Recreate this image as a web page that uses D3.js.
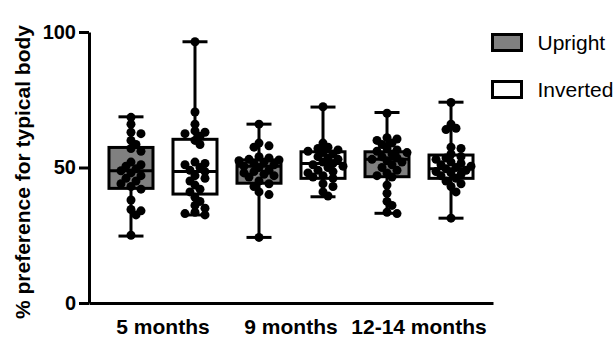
<!DOCTYPE html>
<meta charset="utf-8">
<style>
    body { margin: 0; background: #fff; }
    svg { font-family: "Liberation Sans", Arial, sans-serif; }
    .axis path, .axis line { stroke: #000; stroke-width: 3; }
    .axis text { font-weight: bold; fill: #000; }
</style>
<svg width="616" height="346"></svg>
<script src="https://cdn.jsdelivr.net/npm/d3@7"></script>
<script>
    // ages and conditions
    var ages = ["5 months", "9 months", "12-14 months"];
    var conditions = ["Upright", "Inverted"];
    var yTicks = [0, 50, 100];

    // individual infants, per age x condition, in order of ages then conditions
    var points5U = [68.5, 66, 63, 62.5, 60, 58.5, 57, 56, 52, 51, 50.5, 49.5, 48.8, 48, 47, 46, 45, 44, 43, 42, 38, 34.5, 34, 32.5, 25];
    var points5I = [96.4, 70.5, 66, 63.5, 63, 62.5, 61.5, 60, 58.5, 52, 51.5, 51, 50, 49, 48.5, 47, 46, 45, 43.5, 42, 41, 39, 37.5, 36, 35, 33.5, 33, 32.5];
    var points9U = [66, 59, 58, 57.5, 54, 53.5, 53, 52.8, 52.5, 52, 51.5, 51, 50.5, 50, 49, 48.5, 48, 47.5, 47, 46.5, 45, 44, 43, 41, 40, 24.2];
    var points9I = [72.4, 59, 57.5, 57, 56.5, 56, 55.5, 55, 54, 53.5, 53, 52, 51.5, 51, 50.5, 50, 49, 48.5, 48, 47, 46.5, 46, 44, 43, 41, 39.5];
    var points12U = [70, 61, 60.5, 60, 59, 58.5, 57, 56.5, 56, 55.5, 55, 54, 53.5, 53, 52.5, 52, 51, 50, 49, 48, 47, 46.5, 43.5, 40.5, 37.5, 36, 33.5, 33];
    var points12I = [74, 66, 64.5, 64, 57.5, 57, 55, 54, 53.5, 53, 52, 51.5, 51, 50.5, 50, 49.5, 49, 48.5, 48, 47.5, 47, 46, 45, 44, 43, 41, 31.3];

    // box statistics (min to max whiskers)
    var boxMin = [24.7, 32.5, 24.2, 39.2, 33.1, 31.3];
    var boxQ1 = [42.3, 40.2, 44.2, 46, 46.6, 46];
    var boxMedian = [48.8, 48.5, 50.5, 51.5, 53, 49.5];
    var boxQ3 = [57.4, 60.4, 52.8, 55.8, 55.8, 54.6];
    var boxMax = [68.7, 96.4, 66, 72.3, 70.3, 74.1];

    var allPoints = [points5U, points5I, points9U, points9I, points12U, points12I];
    var fills = { "Upright": "#808080", "Inverted": "#fff" };

    var svg = d3.select("svg");

    var x0 = d3.scaleBand().domain(ages).range([89, 493]).paddingInner(0).paddingOuter(0.078);
    var x1 = d3.scalePoint().domain(conditions).range([0, x0.bandwidth()]).padding(0.5);
    var y = d3.scaleLinear().domain([0, 100]).range([303, 32]);

    var groups = [];
    ages.forEach(function (a, i) {
        conditions.forEach(function (c, j) {
            var k = i * 2 + j;
            groups.push({
                age: a, cond: c, cx: x0(a) + x1(c),
                min: boxMin[k], q1: boxQ1[k], med: boxMedian[k], q3: boxQ3[k], max: boxMax[k],
                values: allPoints[k]
            });
        });
    });

    // simple dodge so dots sit side by side like a scatter dot plot
    var r = 4.5;
    function dodge(values, cx) {
        var placed = [];
        values.slice().sort(function (a, b) { return b - a; }).forEach(function (v) {
            var py = y(v), off = 0;
            for (var n = 0; n < 20; n++) {
                var o = (n % 2 ? 1 : -1) * Math.ceil(n / 2) * 5;
                var ok = placed.every(function (p) {
                    var dx = p.x - (cx + o), dy = p.y - py;
                    return dx * dx + dy * dy >= 36;
                });
                if (ok) { off = o; break; }
            }
            placed.push({ x: cx + off, y: py });
        });
        return placed;
    }

    var g = svg.selectAll(".box").data(groups).enter().append("g").attr("class", "box");

    // whiskers
    g.append("line")
        .attr("x1", function (d) { return d.cx; }).attr("x2", function (d) { return d.cx; })
        .attr("y1", function (d) { return y(d.max); }).attr("y2", function (d) { return y(d.min); })
        .attr("stroke", "#000").attr("stroke-width", 3);
    ["max", "min"].forEach(function (key) {
        g.append("line")
            .attr("x1", function (d) { return d.cx - 12.5; }).attr("x2", function (d) { return d.cx + 12.5; })
            .attr("y1", function (d) { return y(d[key]); }).attr("y2", function (d) { return y(d[key]); })
            .attr("stroke", "#000").attr("stroke-width", 3);
    });

    // boxes
    g.append("rect")
        .attr("x", function (d) { return d.cx - 22; })
        .attr("width", 44)
        .attr("y", function (d) { return y(d.q3); })
        .attr("height", function (d) { return y(d.q1) - y(d.q3); })
        .attr("fill", function (d) { return fills[d.cond]; })
        .attr("stroke", "#000").attr("stroke-width", 3);
    g.append("line")
        .attr("x1", function (d) { return d.cx - 22; }).attr("x2", function (d) { return d.cx + 22; })
        .attr("y1", function (d) { return y(d.med); }).attr("y2", function (d) { return y(d.med); })
        .attr("stroke", "#000").attr("stroke-width", 3);

    // dots
    g.each(function (d) {
        d3.select(this).selectAll("circle").data(dodge(d.values, d.cx)).enter().append("circle")
            .attr("cx", function (p) { return p.x; })
            .attr("cy", function (p) { return p.y; })
            .attr("r", r)
            .attr("fill", "#000");
    });

    // axes
    svg.append("g")
        .attr("class", "axis axis--y")
        .attr("transform", "translate(89,0)")
        .call(d3.axisLeft(y).tickValues(yTicks).tickSize(10).tickSizeOuter(0).tickPadding(3))
        .selectAll("text").style("font-size", "20px");

    var xAxis = svg.append("g")
        .attr("class", "axis axis--x")
        .attr("transform", "translate(0,303)")
        .call(d3.axisBottom(x0).tickSize(0).tickSizeOuter(0).tickPadding(16));
    xAxis.selectAll("text").style("font-size", "21px");

    svg.append("text")
        .attr("transform", "translate(30,172) rotate(-90)")
        .attr("text-anchor", "middle")
        .style("font-size", "21px").style("font-weight", "bold")
        .text("% preference for typical body");

    // legend
    var legend = svg.selectAll(".legend").data(conditions).enter().append("g")
        .attr("class", "legend")
        .attr("transform", function (d, i) { return "translate(492.5," + (34.5 + i * 47) + ")"; });
    legend.append("rect")
        .attr("width", 29).attr("height", 16)
        .attr("fill", function (d) { return fills[d]; })
        .attr("stroke", "#000").attr("stroke-width", 3);
    legend.append("text")
        .attr("x", 45).attr("y", 15)
        .style("font-size", "21px")
        .text(function (d) { return d; });
</script>
